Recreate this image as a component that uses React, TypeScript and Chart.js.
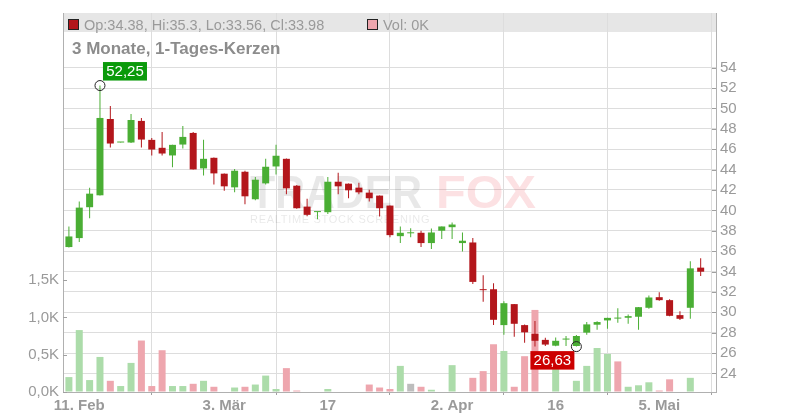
import React, { useEffect, useRef } from 'react';
import { Chart, registerables } from 'chart.js';

Chart.register(...registerables);

const title = '3 Monate, 1-Tages-Kerzen';

const dates = [
  '10.02.', '11.02.', '12.02.', '13.02.', '14.02.', '17.02.', '18.02.', '19.02.', '20.02.', '21.02.',
  '24.02.', '25.02.', '26.02.', '27.02.', '28.02.', '03.03.', '04.03.', '05.03.', '06.03.', '07.03.',
  '10.03.', '11.03.', '12.03.', '13.03.', '14.03.', '17.03.', '18.03.', '19.03.', '20.03.', '21.03.',
  '24.03.', '25.03.', '26.03.', '27.03.', '28.03.', '31.03.', '01.04.', '02.04.', '03.04.', '04.04.',
  '07.04.', '08.04.', '09.04.', '10.04.', '11.04.', '14.04.', '15.04.', '16.04.', '17.04.', '22.04.',
  '23.04.', '24.04.', '25.04.', '28.04.', '29.04.', '30.04.', '02.05.', '05.05.', '06.05.', '07.05.',
  '08.05.', '09.05.',
];

const opens = [
  36.40, 37.28, 40.31, 41.48, 48.97, 46.66, 46.66, 48.78, 46.92, 46.14,
  45.39, 46.46, 47.60, 44.12, 45.16, 43.60, 42.26, 43.79, 41.09, 42.65,
  44.31, 45.06, 42.42, 40.37, 39.83, 39.82, 42.81, 42.62, 42.23, 41.74,
  41.45, 40.47, 37.47, 37.75, 37.80, 36.79, 38.00, 38.35, 36.79, 36.85,
  32.23, 32.26, 28.74, 30.80, 28.74, 27.88, 27.29, 26.72, 27.32, 26.69,
  28.00, 28.78, 29.20, 29.38, 29.46, 29.56, 30.44, 31.48, 31.19, 29.72,
  30.44, 34.38,
];
const highs = [
  38.42, 40.86, 42.23, 52.25, 50.24, 46.72, 49.46, 49.07, 47.11, 47.70,
  46.45, 48.29, 47.70, 46.92, 45.20, 43.62, 44.05, 43.89, 43.27, 45.06,
  46.43, 45.08, 42.48, 41.15, 39.87, 43.27, 43.69, 42.64, 42.72, 42.03,
  41.47, 40.49, 38.42, 38.25, 38.00, 38.22, 38.42, 38.81, 37.83, 37.28,
  33.63, 32.85, 31.09, 30.82, 28.80, 29.15, 27.50, 27.52, 27.68, 27.77,
  29.04, 29.13, 29.45, 30.40, 29.79, 30.52, 31.64, 31.97, 31.28, 30.11,
  35.00, 35.3,
];
const lows = [
  36.35, 36.89, 39.23, 41.45, 46.17, 46.66, 46.62, 46.17, 45.39, 45.39,
  44.22, 46.07, 44.00, 43.43, 42.55, 41.93, 41.77, 40.60, 40.99, 42.55,
  43.53, 41.58, 40.15, 39.43, 39.13, 39.65, 41.58, 41.19, 41.58, 40.86,
  39.39, 37.37, 36.79, 37.37, 36.40, 36.20, 37.18, 37.18, 35.97, 32.78,
  31.02, 28.74, 27.80, 27.60, 27.02, 26.65, 26.70, 26.67, 26.70, 26.63,
  27.80, 28.29, 28.38, 28.97, 28.87, 28.29, 30.34, 31.12, 29.62, 29.23,
  29.36, 33.56,
];
const closes = [
  37.44, 40.27, 41.64, 49.07, 46.56, 46.70, 48.87, 46.95, 45.97, 45.58,
  46.43, 47.21, 44.02, 45.06, 43.63, 42.36, 43.89, 41.38, 43.01, 44.28,
  45.36, 42.16, 40.21, 39.56, 39.85, 42.81, 42.36, 41.97, 41.77, 41.19,
  40.21, 37.57, 37.80, 37.80, 36.79, 37.83, 38.42, 38.61, 37.02, 32.98,
  32.17, 29.26, 30.89, 28.87, 28.03, 27.20, 26.83, 27.20, 27.42, 27.67,
  28.81, 29.04, 29.45, 29.42, 29.62, 30.50, 31.45, 31.19, 29.65, 29.36,
  34.31, 33.98,
];
// volume in thousands
const volumes = [
  0.20, 0.83, 0.16, 0.47, 0.15, 0.08, 0.39, 0.69, 0.08, 0.56,
  0.08, 0.08, 0.11, 0.15, 0.07, 0, 0.06, 0.07, 0.10, 0.22,
  0.04, 0.32, 0.02, 0, 0, 0.04, 0, 0, 0, 0.10,
  0.06, 0.04, 0.35, 0.11, 0.07, 0.03, 0, 0.36, 0, 0.19,
  0.28, 0.64, 0.55, 0.07, 0.48, 1.10, 0, 0.45, 0, 0.15,
  0.35, 0.59, 0.51, 0.41, 0.07, 0.09, 0.13, 0.02, 0.17, 0,
  0.19, 0,
];

const xTickDates = ['11.02.', '03.03.', '17.03.', '02.04.', '16.04.', '05.05.'];
const xTickLabels = ['11. Feb', '3. Mär', '17', '2. Apr', '16', '5. Mai'];
const priceTicks = [24, 26, 28, 30, 32, 34, 36, 38, 40, 42, 44, 46, 48, 50, 52, 54];
const volumeTicks = [0, 0.5, 1.0, 1.5];

const GREEN = '#4aae34';
const RED = '#b3161b';
const VGREEN = '#acdcaa';
const VRED = '#eea6ae';
const VGRAY = '#bdbdbd';
const FONT = '"Liberation Sans", Arial, sans-serif';

export default function App() {
  const ref = useRef<HTMLCanvasElement>(null);

  useEffect(() => {
    const canvas = ref.current;
    if (!canvas) return;
    const idx = dates.map((_, i) => i);
    const candleColor = (i: number) => (closes[i] >= opens[i] ? GREEN : RED);
    const volColor = (i: number) => {
      if (i === 0) return VGREEN;
      const d = closes[i] - closes[i - 1];
      return d > 0 ? VGREEN : d < 0 ? VRED : VGRAY;
    };
    const tickIdx = xTickDates.map((d) => dates.indexOf(d));
    const last = dates.length - 1;

    const overlay = {
      id: 'overlay',
      beforeDraw(chart: any) {
        const { ctx, chartArea } = chart;
        ctx.save();
        ctx.fillStyle = '#e6e6e6';
        ctx.fillRect(chartArea.left, chartArea.top, chartArea.right - chartArea.left, 19);
        ctx.restore();
      },
      beforeDatasetsDraw(chart: any) {
        const { ctx } = chart;
        ctx.save();
        ctx.font = `bold 46px ${FONT}`;
        ctx.textBaseline = 'alphabetic';
        const w1 = ctx.measureText('TRADER').width;
        ctx.save();
        ctx.translate(250, 208);
        ctx.scale(172 / w1, 1);
        ctx.fillStyle = 'rgba(0,0,0,0.09)';
        ctx.fillText('TRADER', 0, 0);
        ctx.restore();
        const w2 = ctx.measureText('FOX').width;
        ctx.save();
        ctx.translate(436, 208);
        ctx.scale(100 / w2, 1);
        ctx.fillStyle = 'rgba(235,80,90,0.17)';
        ctx.fillText('FOX', 0, 0);
        ctx.restore();
        ctx.font = `11px ${FONT}`;
        (ctx as any).letterSpacing = '0.7px';
        ctx.fillStyle = 'rgba(0,0,0,0.09)';
        ctx.fillText('REALTIME STOCK SCREENING', 250, 223);
        ctx.restore();
      },
      afterDatasetsDraw(chart: any) {
        const { ctx, chartArea, scales } = chart;
        const xs = scales.x;
        const ys = scales.y;
        const yv = scales.yVol;
        ctx.save();
        // inner tick marks
        ctx.strokeStyle = '#a0a0a0';
        ctx.lineWidth = 1;
        ctx.beginPath();
        priceTicks.forEach((v) => {
          const y = Math.round(ys.getPixelForValue(v)) + 0.5;
          ctx.moveTo(chartArea.right - 4, y);
          ctx.lineTo(chartArea.right, y);
        });
        volumeTicks.forEach((v) => {
          const y = Math.round(yv.getPixelForValue(v)) + 0.5;
          ctx.moveTo(chartArea.left, y);
          ctx.lineTo(chartArea.left + 4, y);
        });
        ctx.stroke();

        // header legend
        const top = chartArea.top;
        ctx.fillStyle = RED;
        ctx.fillRect(chartArea.left + 5, top + 6, 10, 10);
        ctx.strokeStyle = '#222';
        ctx.strokeRect(chartArea.left + 5.5, top + 6.5, 10, 10);
        ctx.fillStyle = VRED;
        ctx.fillRect(367, top + 6, 10, 10);
        ctx.strokeRect(367.5, top + 6.5, 10, 10);
        ctx.font = `14.5px ${FONT}`;
        ctx.fillStyle = '#9a9a9a';
        ctx.textBaseline = 'alphabetic';
        ctx.textAlign = 'left';
        ctx.fillText(
          `Op:${opens[last]}, Hi:${highs[last]}, Lo:${lows[last]}, Cl:${closes[last]}`,
          chartArea.left + 21,
          top + 16.5
        );
        ctx.fillText(`Vol: ${volumes[last]}K`, 383, top + 16.5);

        // title
        ctx.font = `bold 17px ${FONT}`;
        ctx.fillStyle = '#8c8c8c';
        ctx.fillText(title, chartArea.left + 9, 54);

        // hi / lo markers
        let hiI = 0;
        let loI = 0;
        highs.forEach((h, i) => { if (h > highs[hiI]) hiI = i; });
        lows.forEach((l, i) => { if (l < lows[loI]) loI = i; });
        const fmt = (v: number) => v.toFixed(2).replace('.', ',');
        ctx.font = `15px ${FONT}`;
        ctx.textAlign = 'center';
        ctx.textBaseline = 'middle';

        const hx = xs.getPixelForValue(hiI);
        const hy = ys.getPixelForValue(highs[hiI]);
        ctx.fillStyle = '#0a9a0a';
        ctx.fillRect(hx + 3, hy - 23.5, 44, 18.5);
        ctx.fillStyle = '#ffffff';
        ctx.fillText(fmt(highs[hiI]), hx + 25, hy - 13.8);
        ctx.strokeStyle = '#222';
        ctx.beginPath();
        ctx.arc(hx, hy, 5, 0, Math.PI * 2);
        ctx.stroke();

        const lx = xs.getPixelForValue(loI);
        const ly = ys.getPixelForValue(lows[loI]);
        ctx.fillStyle = '#cc0000';
        ctx.fillRect(lx - 46, ly + 4.5, 44, 18.5);
        ctx.fillStyle = '#ffffff';
        ctx.fillText(fmt(lows[loI]), lx - 24, ly + 14.2);
        ctx.strokeStyle = '#222';
        ctx.beginPath();
        ctx.arc(lx, ly, 5, 0, Math.PI * 2);
        ctx.stroke();
        ctx.restore();
      },
    };

    const chart = new Chart(canvas, {
      type: 'bar',
      data: {
        datasets: [
          {
            label: 'body',
            data: idx.map((i) => ({ x: i, y: [opens[i], closes[i]] })) as any,
            yAxisID: 'y',
            xAxisID: 'x',
            backgroundColor: idx.map(candleColor),
            barThickness: 7,
            grouped: false,
            minBarLength: 1,
            inflateAmount: 0,
            order: 1,
          } as any,
          {
            label: 'wick',
            data: idx.map((i) => ({ x: i, y: [lows[i], highs[i]] })) as any,
            yAxisID: 'y',
            xAxisID: 'x',
            backgroundColor: idx.map(candleColor),
            barThickness: 1,
            grouped: false,
            inflateAmount: 0,
            order: 2,
          } as any,
          {
            label: 'vol',
            data: idx.map((i) => ({ x: i, y: volumes[i] })) as any,
            yAxisID: 'yVol',
            xAxisID: 'x',
            backgroundColor: idx.map(volColor),
            barThickness: 7,
            grouped: false,
            inflateAmount: 0,
            order: 3,
          } as any,
        ],
      },
      options: {
        responsive: false,
        animation: false,
        devicePixelRatio: 1,
        layout: { padding: { top: 11, left: 0, right: 0, bottom: 0 } },
        plugins: { legend: { display: false }, tooltip: { enabled: false } },
        scales: {
          x: {
            type: 'linear',
            position: 'bottom',
            min: -0.57,
            max: 62.48,
            offset: false,
            afterBuildTicks: (s: any) => {
              s.ticks = tickIdx.map((v) => ({ value: v }));
            },
            afterFit: (s: any) => {
              s.height = 28;
            },
            ticks: {
              autoSkip: false,
              maxRotation: 0,
              padding: 2,
              color: '#9a9a9a',
              font: { family: FONT, size: 15, weight: 'bold' },
              callback: (v: any) => xTickLabels[tickIdx.indexOf(v)] ?? '',
            },
            grid: { color: '#dddddd', tickColor: '#a0a0a0', tickLength: 3, drawTicks: true },
            border: { color: '#b0b0b0' },
          },
          y: {
            type: 'linear',
            position: 'right',
            min: 22.175,
            max: 59.37,
            afterBuildTicks: (s: any) => {
              s.ticks = priceTicks.map((v) => ({ value: v }));
            },
            afterFit: (s: any) => {
              s.width = 84;
            },
            ticks: {
              padding: 4,
              color: '#9a9a9a',
              font: { family: FONT, size: 15 },
              callback: (v: any) => String(v),
            },
            grid: { color: '#dddddd', drawTicks: false },
            border: { color: '#b0b0b0' },
          },
          yVol: {
            type: 'linear',
            position: 'left',
            min: 0,
            max: 5.08,
            afterBuildTicks: (s: any) => {
              s.ticks = volumeTicks.map((v) => ({ value: v }));
            },
            afterFit: (s: any) => {
              s.width = 63;
            },
            ticks: {
              padding: 4,
              color: '#9a9a9a',
              font: { family: FONT, size: 15 },
              callback: (v: any) => Number(v).toFixed(1).replace('.', ',') + 'K',
            },
            grid: { drawOnChartArea: false, drawTicks: false },
            border: { color: '#b0b0b0' },
          },
        },
      } as any,
      plugins: [overlay],
    });
    return () => chart.destroy();
  }, []);

  return (
    <div style={{ position: 'absolute', left: 0, top: 0, width: 800, height: 420, background: '#ffffff' }}>
      <canvas ref={ref} width={800} height={420} style={{ display: 'block', width: 800, height: 420 }} />
    </div>
  );
}
